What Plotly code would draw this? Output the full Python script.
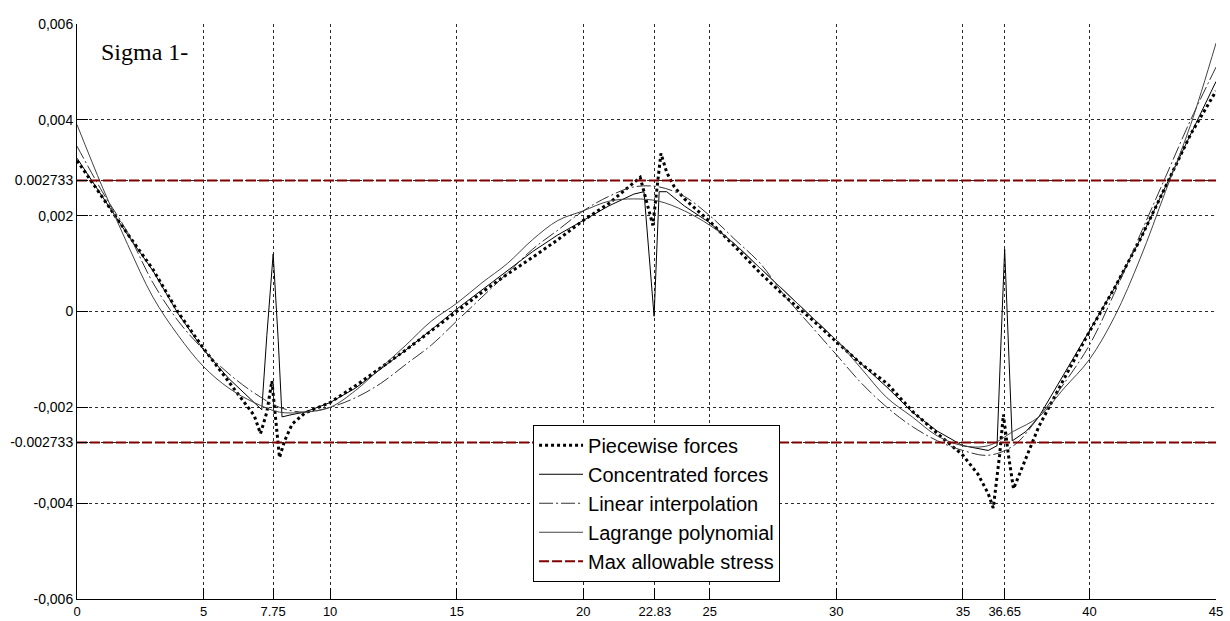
import plotly.graph_objects as go

# ---------------- data ----------------
pw_x = [0, 1, 2, 3, 4, 5, 6, 6.5, 7.0, 7.25, 7.5, 7.7, 7.85, 8.0, 8.2, 8.5, 9, 10, 11, 12,
        13, 14, 15, 16, 17, 18, 19, 20, 21, 21.7, 22.25, 22.5, 22.75, 22.9, 23.07, 23.3,
        23.6, 24, 25, 26, 27, 28, 29, 30, 31, 32, 33, 34, 35, 35.6, 36.0, 36.2, 36.45,
        36.6, 36.8, 37.0, 37.3, 37.6, 38, 39, 40, 41, 42, 43, 44, 45]
pw_y = [0.00315, 0.00238, 0.00162, 0.00088, -0.00002, -0.00077, -0.00148, -0.00182,
        -0.00217, -0.00255, -0.0021, -0.00145, -0.0022, -0.00305, -0.0027, -0.00235,
        -0.00212, -0.0019, -0.00155, -0.00117, -0.0008, -0.0004, 0.0, 0.0004, 0.00078,
        0.00113, 0.0015, 0.0019, 0.00225, 0.00255, 0.0028, 0.0023, 0.0018, 0.0025, 0.0033,
        0.0029, 0.0026, 0.00235, 0.00188, 0.00135, 0.0008, 0.0003, -0.00015, -0.00063,
        -0.0011, -0.0015, -0.00208, -0.00255, -0.0030, -0.0034, -0.0038, -0.0041, -0.003,
        -0.00215, -0.003, -0.0037, -0.0033, -0.0029, -0.0024, -0.0014, -0.00042, 0.0005,
        0.0015, 0.0026, 0.0037, 0.0046]

cf_x = [0, 1, 2, 3, 4, 5, 6, 7, 7.3, 7.5, 7.75, 7.95, 8.1, 8.5, 9, 10, 11, 12, 13, 14, 15,
        16, 17, 18, 19, 20, 21, 22, 22.4, 22.6, 22.8, 22.9, 23.0, 23.3, 24, 25, 26, 27, 28,
        29, 30, 31, 32, 33, 34, 35, 36, 36.35, 36.5, 36.65, 36.8, 36.95, 37.5, 38, 39, 40,
        41, 42, 43, 44, 45]
cf_y = [0.0032, 0.0024, 0.0016, 0.00085, -0.00005, -0.0008, -0.0014, -0.0019, -0.00205,
        -0.0005, 0.0012, -0.0006, -0.0022, -0.00215, -0.0021, -0.0019, -0.0016, -0.0012,
        -0.0008, -0.00038, 0.00005, 0.00045, 0.00085, 0.00125, 0.0016, 0.0019, 0.0022,
        0.00245, 0.0025, 0.0012, -0.0001, 0.0012, 0.0025, 0.0025, 0.0022, 0.00185, 0.0014,
        0.0009, 0.0004, -0.00012, -0.0006, -0.0011, -0.00158, -0.0021, -0.0025, -0.0028,
        -0.0029, -0.0028, -0.0007, 0.0013, -0.0007, -0.0027, -0.0025, -0.0022, -0.0013,
        -0.0004, 0.0005, 0.0015, 0.0026, 0.0037, 0.0048]

smooth_x = list(range(0, 46))
li_y = [0.00345, 0.0025, 0.00165, 0.0006, -0.0002, -0.0008, -0.0013, -0.0017, -0.002,
        -0.0021, -0.002, -0.0018, -0.0015, -0.0011, -0.0007, -0.0002, 0.0003, 0.0008,
        0.0013, 0.0017, 0.0021, 0.0024, 0.0026, 0.0026, 0.0024, 0.002, 0.0015, 0.001,
        0.0003, -0.0003, -0.0009, -0.0015, -0.002, -0.0024, -0.0027, -0.0029, -0.003,
        -0.0028, -0.0022, -0.0015, -0.0007, 0.0004, 0.0016, 0.0028, 0.004, 0.0051]
lp_y = [0.0039, 0.0026, 0.0014, 0.0003, -0.0005, -0.00115, -0.0016, -0.0019, -0.0021,
        -0.0021, -0.002, -0.00165, -0.00118, -0.0007, -0.0002, 0.00017, 0.0006, 0.001,
        0.0015, 0.0019, 0.0021, 0.0023, 0.00235, 0.0023, 0.0021, 0.0018, 0.0014, 0.0009,
        0.0004, -0.0001, -0.0006, -0.0012, -0.0018, -0.0022, -0.0026, -0.0028, -0.0028,
        -0.0025, -0.0022, -0.0016, -0.001, -0.0001, 0.0011, 0.0025, 0.0039, 0.0056]

max_stress = 0.002733
x_range = [0, 45]

x_ticks = [0, 5, 7.75, 10, 15, 20, 22.83, 25, 30, 35, 36.65, 40, 45]
x_ticktext = ["0", "5", "7.75", "10", "15", "20", "22.83", "25", "30", "35", "36.65", "40", "45"]
y_ticks = [-0.006, -0.004, -0.002733, -0.002, 0, 0.002, 0.002733, 0.004, 0.006]
y_ticktext = ["-0,006", "-0,004", "-0.002733", "-0,002", "0", "0,002", "0.002733", "0,004", "0,006"]

# ---------------- figure ----------------
fig = go.Figure()
fig.add_trace(go.Scatter(x=pw_x, y=pw_y, mode="lines", name="Piecewise forces",
                         line=dict(color="black", width=3, dash="dot")))
fig.add_trace(go.Scatter(x=cf_x, y=cf_y, mode="lines", name="Concentrated forces",
                         line=dict(color="black", width=1)))
fig.add_trace(go.Scatter(x=smooth_x, y=li_y, mode="lines", name="Linear interpolation",
                         line=dict(color="#333333", width=1, dash="14px,3px,2px,3px"),
                         line_shape="spline"))
fig.add_trace(go.Scatter(x=smooth_x, y=lp_y, mode="lines", name="Lagrange polynomial",
                         line=dict(color="#444444", width=1), line_shape="spline"))
fig.add_trace(go.Scatter(x=x_range, y=[max_stress, max_stress], mode="lines",
                         name="Max allowable stress",
                         line=dict(color="#800000", width=2, dash="10px,3px")))
fig.add_trace(go.Scatter(x=x_range, y=[-max_stress, -max_stress], mode="lines",
                         showlegend=False,
                         line=dict(color="#800000", width=2, dash="10px,3px")))

fig.add_annotation(x=0.87, y=0.00542, xref="x", yref="y", text="Sigma 1-",
                   showarrow=False, xanchor="left", yanchor="middle",
                   font=dict(family="Liberation Serif", size=24, color="black"))

axis_common = dict(showgrid=True, gridcolor="#2a2a2a", gridwidth=1, griddash="dot",
                   zeroline=False, showline=True, linecolor="black", linewidth=1,
                   ticks="inside", ticklen=11, tickcolor="black", automargin=False)

fig.update_xaxes(range=x_range, tickmode="array", tickvals=x_ticks, ticktext=x_ticktext,
                 tickfont=dict(family="Liberation Sans", size=13, color="black"),
                 **axis_common)
fig.update_yaxes(range=[-0.006, 0.006], tickmode="array", tickvals=y_ticks,
                 ticktext=y_ticktext,
                 tickfont=dict(family="Liberation Sans", size=14, color="black"),
                 **axis_common)

fig.update_layout(
    width=1230, height=621,
    margin=dict(l=77, r=14, t=24, b=22),
    paper_bgcolor="white", plot_bgcolor="white",
    font=dict(family="Liberation Sans", color="black"),
    legend=dict(x=0.4004, y=0.03, xanchor="left", yanchor="bottom",
                bgcolor="white", bordercolor="black", borderwidth=1,
                font=dict(family="Liberation Sans", size=20, color="black"),
                tracegroupgap=0, itemwidth=44),
    showlegend=True,
)

fig.write_html("out.html")
